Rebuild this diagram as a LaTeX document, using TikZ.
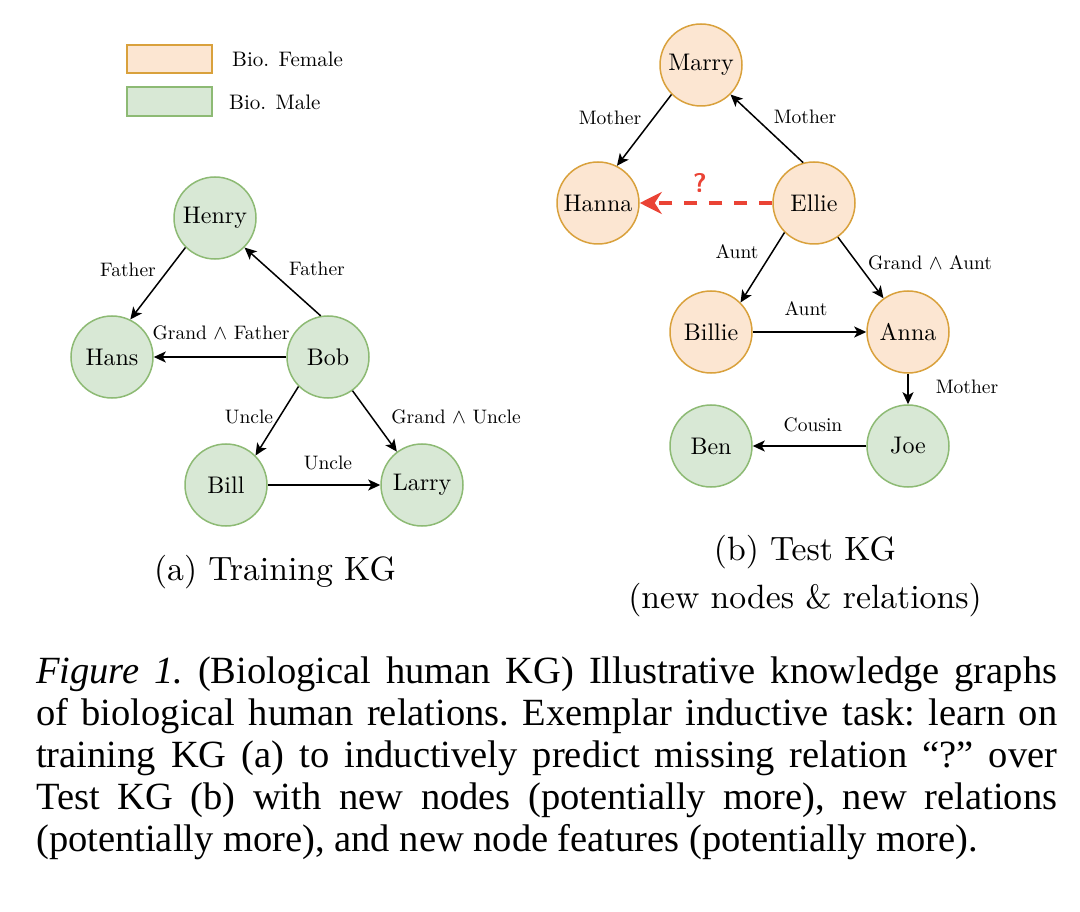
\documentclass[tikz,border=0pt]{standalone}
\usepackage{fontspec}
\setmainfont{lmroman10-regular.otf}[BoldFont=lmroman10-bold.otf, ItalicFont=lmroman10-italic.otf]
\newfontfamily\capfont{Liberation Serif}
\usetikzlibrary{arrows.meta}

\definecolor{femfill}{HTML}{FCE6D2}
\definecolor{femline}{HTML}{D9A13C}
\definecolor{malefill}{HTML}{D8E8D5}
\definecolor{maleline}{HTML}{8DBA74}
\definecolor{qred}{HTML}{EA4335}

\begin{document}
\begin{tikzpicture}[x=1pt,y=-1pt,
   female/.style={circle, draw=femline, fill=femfill, line width=1.5pt,
                  minimum size=82pt, inner sep=0pt, font=\fontsize{24}{28}\selectfont},
   male/.style={female, draw=maleline, fill=malefill},
   rel/.style={-{Stealth[length=12pt,width=11pt,inset=3pt]}, line width=1.5pt},
   lbl/.style={inner sep=0pt, font=\fontsize{19.5}{23}\selectfont}]

   \useasboundingbox (0,0) rectangle (1080,912);

   % legend
   \node[draw=femline, fill=femfill, line width=1.5pt, minimum width=85pt,
         minimum height=28pt, inner sep=0pt] (femkey) at (169.5,59) {};
   \node[draw=maleline, fill=malefill, line width=1.5pt, minimum width=85pt,
         minimum height=29pt, inner sep=0pt] (malekey) at (169.5,101.5) {};
   \node[anchor=west, inner sep=0pt, font=\fontsize{21}{25}\selectfont] (femtxt) at (232,59) {Bio. Female};
   \node[anchor=west, inner sep=0pt, font=\fontsize{21}{25}\selectfont] (maletxt) at (229,102) {Bio. Male};

   % (a) training KG
   \node[male] (henry) at (215,218) {Henry};
   \node[male] (hans)  at (112,357) {Hans};
   \node[male] (bob)   at (328,357) {Bob};
   \node[male] (bill)  at (226,485) {Bill};
   \node[male] (larry) at (422,485) {Larry};

   \draw[rel] (henry.south west) -- (hans.64);
   \draw[rel] (bob.100) -- (henry.south east);
   \draw[rel] (bob) -- (hans);
   \draw[rel] (bob.south west) -- (bill.north east);
   \draw[rel] (bob.-54) -- (larry.127);
   \draw[rel] (bill) -- (larry);

   \node[lbl] (fa1) at (128,270) {Father};
   \node[lbl] (fa2) at (317,269) {Father};
   \node[lbl] (gfa) at (221,333) {Grand $\wedge$ Father};
   \node[lbl] (un1) at (249,417) {Uncle};
   \node[lbl] (gun) at (456,417) {Grand $\wedge$ Uncle};
   \node[lbl] (un2) at (328,463) {Uncle};

   % (b) test KG
   \node[female] (marry)  at (701,65)  {Marry};
   \node[female] (hanna)  at (598,203) {Hanna};
   \node[female] (ellie)  at (814,203) {Ellie};
   \node[female] (billie) at (711,332) {Billie};
   \node[female] (anna)   at (908,332) {Anna};
   \node[male]   (ben)    at (711,446) {Ben};
   \node[male]   (joe)    at (908,446) {Joe};

   \draw[rel] (marry.south west) -- (hanna.63);
   \draw[rel] (ellie.105) -- (marry.south east);
   \draw[rel] (ellie.south west) -- (billie.north east);
   \draw[rel] (ellie.-55) -- (anna.126);
   \draw[rel] (billie) -- (anna);
   \draw[rel] (anna) -- (joe);
   \draw[rel] (joe) -- (ben);
   \draw[qred, line width=4.5pt, dash pattern=on 13pt off 12pt,
         -{Stealth[length=22pt,width=22pt,inset=7pt]}] (ellie) -- (hanna);

   \node[lbl] (mo1) at (610,118) {Mother};
   \node[lbl] (mo2) at (805,117) {Mother};
   \node[inner sep=0pt, text=qred, font=\sffamily\bfseries\fontsize{27}{30}\selectfont] (q) at (700,183) {?};
   \node[lbl] (au1) at (737,252) {Aunt};
   \node[lbl] (gau) at (930,263) {Grand $\wedge$ Aunt};
   \node[lbl] (au2) at (806,309) {Aunt};
   \node[lbl] (mo3) at (967,387) {Mother};
   \node[lbl] (cou) at (813,425) {Cousin};

   % sub-captions
   \node[anchor=base, inner sep=0pt, font=\fontsize{33.7}{40}\selectfont] (capa) at (275,580) {(a) Training KG};
   \node[align=center, inner sep=0pt, font=\fontsize{33.7}{48}\selectfont] (capb) at (805,576)
        {(b) Test KG\\(new nodes \& relations)};

   % figure caption
   \node[anchor=north west, inner sep=0pt, text width=1021pt, align=justify,
         font=\capfont\fontsize{38.5}{42}\selectfont\frenchspacing] (cap) at (36,657)
        {\textit{Figure 1.} (Biological human KG) Illustrative knowledge graphs\linebreak
         of biological human relations. Exemplar inductive task: learn on\linebreak
         training KG (a) to inductively predict missing relation “?” over\linebreak
         Test KG (b) with new nodes (potentially more), new relations\linebreak
         (potentially more), and new node features (potentially more).};

\end{tikzpicture}
\end{document}
